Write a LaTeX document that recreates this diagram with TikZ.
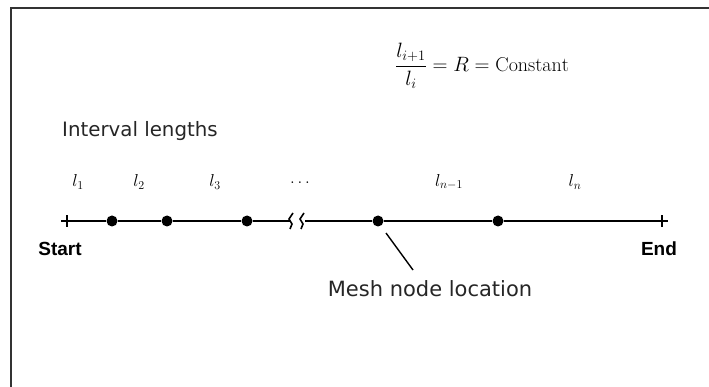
\documentclass[tikz,border=0pt]{standalone}
\usepackage{amsmath}
\usepackage{fontspec}
\newfontfamily\arialbold{Liberation Sans}[BoldFont={Liberation Sans Bold}]
\newfontfamily\lblfont{DejaVu Sans}
\begin{document}
\begin{tikzpicture}[x=1pt,y=-1pt,
  meshdot/.style={circle,fill=black,inner sep=0pt,minimum size=11pt},
  lbl/.style={font=\lblfont\fontsize{19.8}{22}\selectfont,inner sep=0pt,text=black!85},
  se/.style={font=\arialbold\bfseries\fontsize{19}{21}\selectfont,inner sep=0pt},
  len/.style={font=\fontsize{17}{19}\selectfont,inner sep=0pt},
  mainline/.style={line width=2.2pt},
  plusmark/.style={line width=2.6pt}]
\useasboundingbox (0,0) rectangle (709,387);
% frame
\draw[line width=1.8pt,black!80] (11,387) -- (11,8) -- (709,8);
% formula
\node[font=\fontsize{20}{22}\selectfont,inner sep=0pt] (formula) at (482,66) {$\dfrac{l_{i+1}}{l_i} = R = \mathrm{Constant}$};
% interval lengths
\node[lbl,anchor=base west] (intl) at (62,137) {Interval lengths};
\node[len] (l1) at (78,182) {$l_1$};
\node[len] (l2) at (139,182) {$l_2$};
\node[len] (l3) at (215,182) {$l_3$};
\node[len] (ldots) at (300,183) {$\ldots$};
\node[len] (lnm1) at (449,182) {$l_{n-1}$};
\node[len] (ln) at (575,182) {$l_n$};
% points
\coordinate (start) at (67,221);
\node[meshdot] (d1) at (112,221) {};
\node[meshdot] (d2) at (167,221) {};
\node[meshdot] (d3) at (247,221) {};
\coordinate (b1) at (290,221);
\coordinate (b2) at (305,221);
\node[meshdot] (d4) at (378,221) {};
\node[meshdot] (d5) at (498,221) {};
\coordinate (end) at (662,221);
\draw[mainline] (start) -- (d1) -- (d2) -- (d3) -- (b1);
\draw[mainline] (b2) -- (d4) -- (d5) -- (end);
% break marks
\draw[line width=1.6pt] ([shift={(3,-8)}]b1) -- ([shift={(-1,-2)}]b1) -- ([shift={(2,3)}]b1) -- ([shift={(0,8)}]b1);
\draw[line width=1.6pt] ([shift={(-1,-8)}]b2) -- ([shift={(-5,-2)}]b2) -- ([shift={(-2,3)}]b2) -- ([shift={(-4,8)}]b2);
% plus marks
\draw[plusmark] ([xshift=-6]start) -- ([xshift=6]start) ([yshift=-6]start) -- ([yshift=6]start);
\draw[plusmark] ([xshift=-6]end) -- ([xshift=6]end) ([yshift=-6]end) -- ([yshift=6]end);
% start / end labels
\node[se] (startlbl) at (60,249) {Start};
\node[se] (endlbl) at (659,249) {End};
% mesh node label
\node[lbl,anchor=base,font=\lblfont\fontsize{21}{23}\selectfont] (meshlbl) at (430,296) {Mesh node location};
\coordinate (leadend) at (413,270);
\draw[line width=1.4pt] ([shift={(8,12)}]d4.center) -- (leadend);
\end{tikzpicture}
\end{document}
